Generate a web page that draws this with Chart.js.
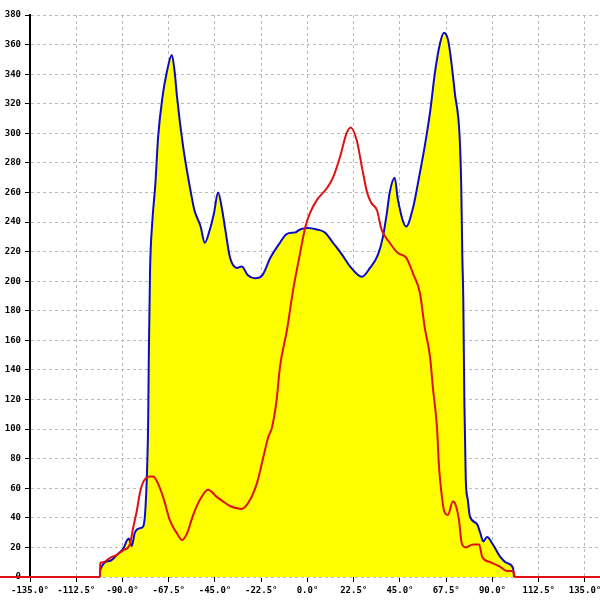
<!DOCTYPE html>
<html>
<head>
<meta charset="utf-8">
<script src="https://cdn.jsdelivr.net/npm/chart.js@4/dist/chart.umd.min.js"></script>
<style>
  html, body { margin: 0; padding: 0; background: #fff; }
  #wrap { width: 600px; height: 600px; }
</style>
</head>
<body>
<div id="wrap"><canvas id="chart" width="600" height="600"></canvas></div>
<script>
// angles (deg) and values
const blueAngles = [-101, -100.8, -96, -92.7, -89.7, -87, -85.5, -84, -81.5, -80, -79, -78, -77.5, -77.2, -76.6, -75.5, -74, -72.7, -70.5, -68.5, -66, -64.5, -63.5, -60.5, -57, -55, -52, -50, -47.5, -45.5, -43.5, -41.5, -40, -37.7, -34.3, -32, -29, -25.5, -22, -18, -13.4, -10, -6, -3.6, 0, 4.6, 8.5, 12.4, 16.8, 20.7, 26.5, 30.4, 34.3, 36.7, 38.6, 40, 42.4, 44, 48, 51.4, 53.7, 57, 59.6, 62, 64.5, 66.4, 68.4, 70, 71.7, 74, 74.8, 75.3, 75.8, 76.3, 77, 78, 79, 82.4, 84, 85.5, 87.3, 90.2, 93.6, 97, 100, 100.5];
const blueValues = [0, 5, 11, 15, 19, 26, 21, 30, 33, 34, 43, 74, 106, 150, 207, 240, 266, 297, 325, 341, 353, 340, 325, 291, 262, 248, 237, 226, 235, 246, 260, 248, 235, 216, 209, 210, 204, 202, 204, 216, 226, 232, 233, 235, 236, 235, 233, 226, 218, 210, 203, 209, 218, 230, 246, 260, 270, 255, 237, 250, 266, 291, 314, 341, 361, 368, 363, 348, 327, 298, 264, 219, 187, 120, 66, 52, 41, 36, 30, 24, 27, 22, 14, 9.5, 6, 0];

const redAngles = [-150, -101, -100.8, -99.5, -96, -92.7, -89.7, -86.4, -85, -83, -81.5, -80, -76.6, -75, -73, -70, -67, -63.5, -61, -58.6, -55.6, -52, -48.4, -44, -41, -37.7, -34.3, -32, -28, -24.6, -23, -21.5, -19, -17.3, -15, -13.4, -10, -7, -3.6, -1, 1.2, 4.6, 9.5, 12.4, 15.8, 19, 21, 24, 26.5, 29, 31, 33.8, 36, 40, 44, 48, 51.4, 54.7, 57, 59.6, 61, 63, 64, 65, 66.4, 68.3, 70.7, 71.7, 73.7, 75, 77, 80.5, 83.5, 85, 89, 93.6, 97, 100, 101, 150];
const redValues = [0, 0, 9.5, 10, 13, 15, 18, 22, 32, 45, 57, 64, 68, 68, 64, 53, 38.5, 29.5, 25, 29.5, 42, 53, 59, 54, 51, 48, 46.5, 46, 52, 63.5, 72, 81, 95, 101, 120, 142, 167, 194, 219, 237, 246, 255, 263, 270, 284, 300, 304, 295, 277, 260, 253, 248, 235, 226, 219, 216, 205, 192, 169, 149, 128, 101, 74, 59, 45, 42, 51, 50, 38.5, 23, 20, 22, 22, 13.5, 10, 7, 4, 4, 0, 0];

const xTicks = [-135, -112.5, -90, -67.5, -45, -22.5, 0, 22.5, 45, 67.5, 90, 112.5, 135];

const toPoints = (xs, ys) => xs.map((x, i) => ({ x: x, y: ys[i] }));

const tickFont = { family: "DejaVu Sans Mono", size: 9, weight: "bold" };

new Chart(document.getElementById("chart"), {
  type: "line",
  data: {
    datasets: [{
      label: "red",
      data: toPoints(redAngles, redValues),
      borderColor: "#e01010",
      borderWidth: 2,
      pointRadius: 0,
      fill: false,
      cubicInterpolationMode: "monotone",
      clip: false,
      order: 0
    }, {
      label: "blue",
      data: toPoints(blueAngles, blueValues),
      borderColor: "#0a0ac8",
      backgroundColor: "#ffff00",
      borderWidth: 2,
      pointRadius: 0,
      fill: "origin",
      cubicInterpolationMode: "monotone",
      order: 1
    }]
  },
  options: {
    responsive: false,
    animation: false,
    devicePixelRatio: 1,
    layout: { padding: { top: 15, right: 0, left: 0, bottom: 0 } },
    plugins: { legend: { display: false }, tooltip: { enabled: false } },
    scales: {
      x: {
        type: "linear",
        min: -135,
        max: 142.3,
        z: 1,
        afterBuildTicks: s => { s.ticks = xTicks.map(v => ({ value: v })); },
        afterFit: s => { s.height = 23; s.paddingLeft = 0; s.paddingRight = 0; },
        border: { display: false, dash: [3, 3] },
        grid: {
          color: "#bababa",
          tickColor: "#000",
          tickLength: 5,
          tickBorderDash: []
        },
        ticks: {
          font: tickFont,
          color: "#000",
          padding: 3,
          maxRotation: 0,
          autoSkip: false,
          callback: v => v.toFixed(1) + "°"
        }
      },
      y: {
        min: 0,
        max: 380,
        z: 1,
        afterFit: s => { s.width = 30; s.paddingTop = 0; s.paddingBottom = 0; },
        border: { display: true, color: "#000", width: 2, dash: [3, 3] },
        grid: {
          color: "#bababa",
          tickColor: "#000",
          tickLength: 5,
          tickBorderDash: []
        },
        ticks: {
          stepSize: 20,
          font: tickFont,
          color: "#000",
          padding: 4
        }
      }
    }
  }
});
</script>
</body>
</html>
